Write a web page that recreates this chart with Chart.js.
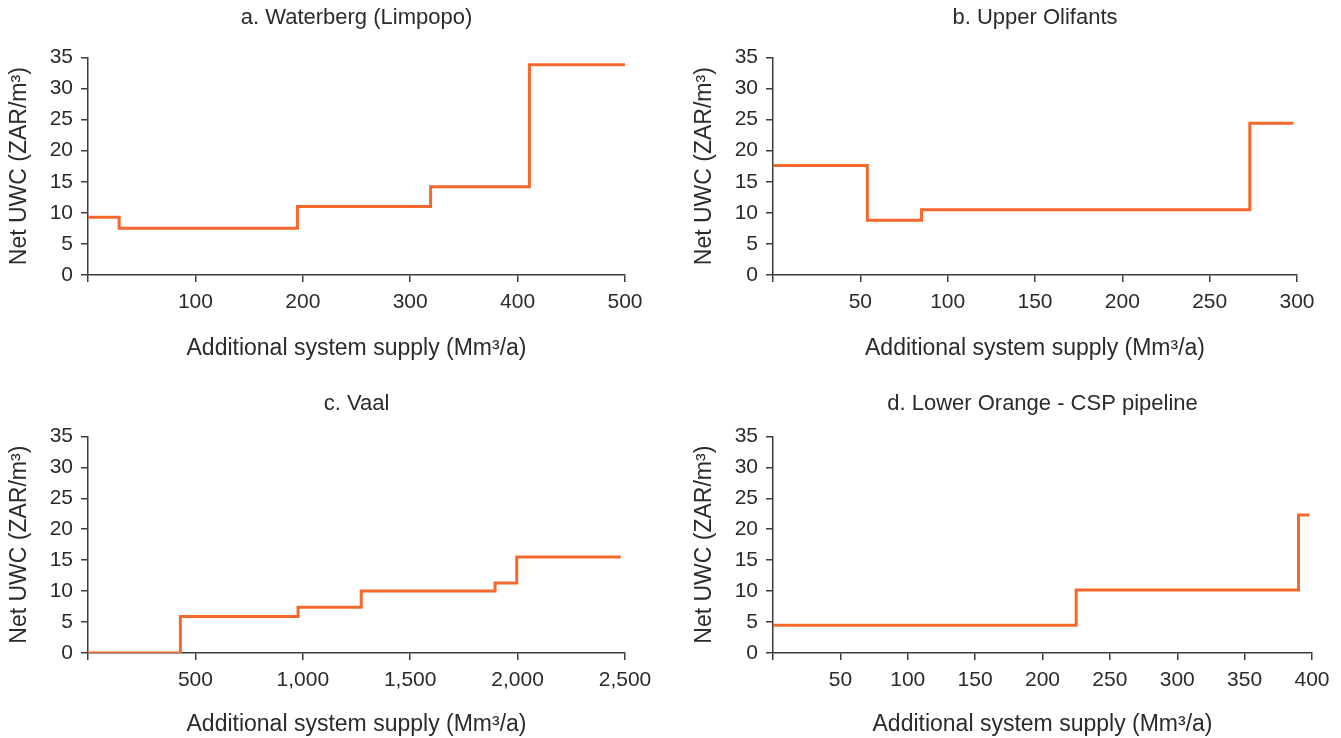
<!DOCTYPE html>
<html>
<head>
<meta charset="utf-8">
<title>Net UWC by additional system supply</title>
<script src="https://cdn.jsdelivr.net/npm/chart.js@4.4.0/dist/chart.umd.min.js"></script>
<style>
  body { margin: 0; background: #fff; }
  canvas { position: absolute; }
</style>
</head>
<body>
<canvas id="waterberg" width="670" height="369" style="left:0;top:0"></canvas>
<canvas id="olifants" width="671" height="369" style="left:670px;top:0"></canvas>
<canvas id="vaal" width="670" height="360" style="left:0;top:378px"></canvas>
<canvas id="orange" width="671" height="360" style="left:670px;top:378px"></canvas>
<script>
// step curves: each cost holds from its supply point up to the next one
const waterbergSupply = [0, 29, 195, 319, 411, 500];
const waterbergUwc = [9.3, 7.5, 11.0, 14.2, 33.8, 33.8];
const waterbergTicks = [0, 100, 200, 300, 400, 500];

const olifantsSupply = [0, 54, 85, 273, 298];
const olifantsUwc = [17.6, 8.8, 10.5, 24.4, 24.4];
const olifantsTicks = [0, 50, 100, 150, 200, 250, 300];

const vaalSupply = [0, 430, 978, 1272, 1895, 1996, 2480];
const vaalUwc = [0, 5.9, 7.4, 10.0, 11.3, 15.5, 15.5];
const vaalTicks = [0, 500, 1000, 1500, 2000, 2500];

const orangeSupply = [0, 225, 390, 398];
const orangeUwc = [4.5, 10.2, 22.3, 22.3];
const orangeTicks = [0, 50, 100, 150, 200, 250, 300, 350, 400];

const uwcTicks = [0, 5, 10, 15, 20, 25, 30, 35];

const FONT = "'Liberation Sans', Arial, sans-serif";
const INK = '#2b2b2b';
const AXIS = '#3c3c3c';
const ORANGE = '#f4682c';

function setTicks(values) {
  return scale => { scale.ticks = values.map(v => ({ value: v })); };
}

function makePanel(id, title, supply, uwc, xTicks, opts) {
  const points = supply.map((x, i) => ({ x: x, y: uwc[i] }));
  return new Chart(document.getElementById(id), {
    type: 'line',
    data: {
      datasets: [{
        data: points,
        stepped: 'before',
        borderColor: ORANGE,
        borderWidth: 3,
        pointRadius: 0,
        fill: false
      }]
    },
    options: {
      responsive: false,
      animation: false,
      layout: { padding: { left: opts.padLeft, right: opts.padRight, top: 0, bottom: 0 } },
      plugins: {
        legend: { display: false },
        tooltip: { enabled: false },
        title: {
          display: true,
          text: title,
          fullSize: false,
          color: INK,
          font: { family: FONT, size: 22, weight: 'normal' },
          padding: opts.titlePad
        }
      },
      scales: {
        x: {
          type: 'linear',
          min: xTicks[0],
          max: xTicks[xTicks.length - 1],
          afterBuildTicks: setTicks(xTicks),
          afterFit: s => { s.height = opts.xHeight; },
          grid: { drawOnChartArea: false, drawTicks: true, tickLength: 7, color: AXIS, lineWidth: 1.5 },
          border: { display: true, color: AXIS, width: 1.5 },
          ticks: {
            autoSkip: false,
            maxRotation: 0,
            padding: 8,
            color: INK,
            font: { family: FONT, size: 21 },
            callback: v => v === 0 ? '' : v.toLocaleString('en-US')
          },
          title: {
            display: true,
            text: 'Additional system supply (Mm\u00b3/a)',
            color: INK,
            font: { family: FONT, size: 23 },
            padding: { top: 0, bottom: opts.xTitlePad }
          }
        },
        y: {
          min: 0,
          max: 35,
          afterBuildTicks: setTicks(uwcTicks),
          afterFit: s => { s.width = 88; },
          grid: { drawOnChartArea: false, drawTicks: true, tickLength: 7, color: AXIS, lineWidth: 1.5 },
          border: { display: true, color: AXIS, width: 1.5 },
          ticks: {
            padding: 8,
            color: INK,
            font: { family: FONT, size: 21 }
          },
          title: {
            display: true,
            text: 'Net UWC (ZAR/m\u00b3)',
            color: INK,
            font: { family: FONT, size: 23 },
            padding: { top: 6, bottom: 0 }
          }
        }
      }
    }
  });
}

const topRow = { titlePad: { top: 5, bottom: 26 }, xHeight: 94, xTitlePad: 7 };
const bottomRow = { titlePad: { top: 13, bottom: 19 }, xHeight: 85, xTitlePad: 0 };

makePanel('waterberg', 'a. Waterberg (Limpopo)', waterbergSupply, waterbergUwc, waterbergTicks,
  Object.assign({ padLeft: 0, padRight: 45 }, topRow));
makePanel('olifants', 'b. Upper Olifants', olifantsSupply, olifantsUwc, olifantsTicks,
  Object.assign({ padLeft: 15, padRight: 44 }, topRow));
makePanel('vaal', 'c. Vaal', vaalSupply, vaalUwc, vaalTicks,
  Object.assign({ padLeft: 0, padRight: 45 }, bottomRow));
makePanel('orange', 'd. Lower Orange - CSP pipeline', orangeSupply, orangeUwc, orangeTicks,
  Object.assign({ padLeft: 15, padRight: 29 }, bottomRow));
</script>
</body>
</html>
